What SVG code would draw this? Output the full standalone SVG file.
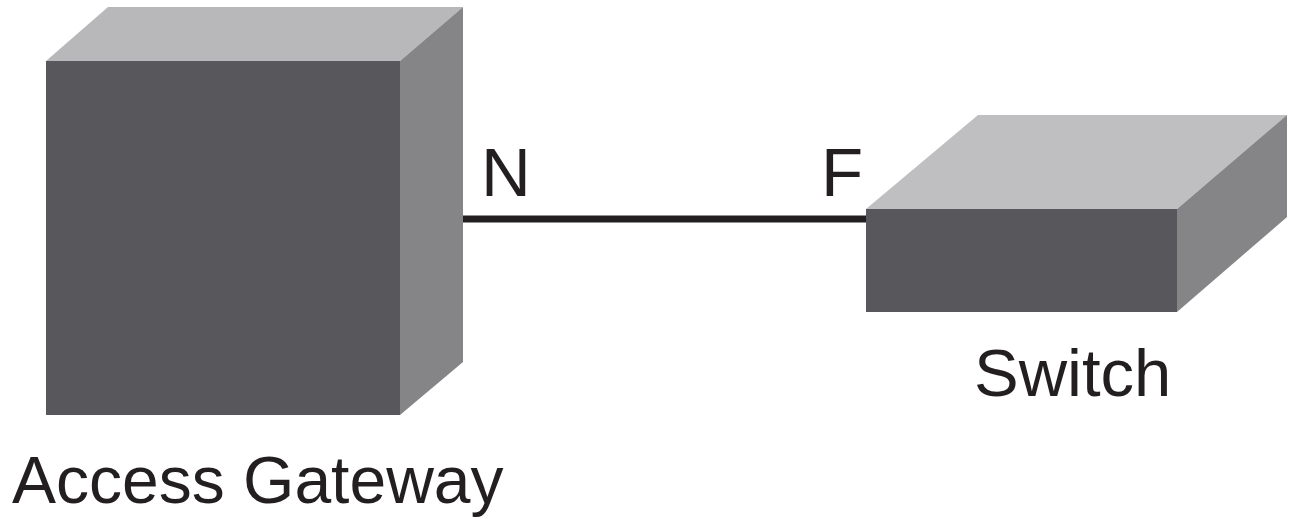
<svg xmlns="http://www.w3.org/2000/svg" width="1291" height="519" viewBox="0 0 1291 519">
<style>
.top{fill:#b8b7ba}
.top2{fill:#bfbfc1}
.front{fill:#58575c}
.side{fill:#858486}
.lbl{font-family:"Liberation Sans",Arial,sans-serif;fill:#231f20}
</style>
<rect width="1291" height="519" fill="#ffffff"/>
<g id="connectors">
<line x1="462" y1="219" x2="867" y2="219" stroke="#231f20" stroke-width="7"/>
<text class="lbl" x="481" y="196" font-size="69">N</text>
<text class="lbl" x="821" y="196" font-size="69">F</text>
</g>
<g id="access-gateway">
<polygon class="top" points="46,61 108,7 463,7 400,61"/>
<polygon class="side" points="400,61 463,7 463,362 400,415"/>
<rect class="front" x="46" y="61" width="354" height="354"/>
<text class="lbl" x="12" y="503" font-size="66">Access Gateway</text>
</g>
<g id="switch">
<polygon class="top2" points="866,209 978,115 1287,115 1177,209"/>
<polygon class="side" points="1177,209 1287,115 1287,217 1177,312"/>
<rect class="front" x="866" y="209" width="311" height="103"/>
<text class="lbl" x="974" y="396" font-size="67">Switch</text>
</g>
</svg>
